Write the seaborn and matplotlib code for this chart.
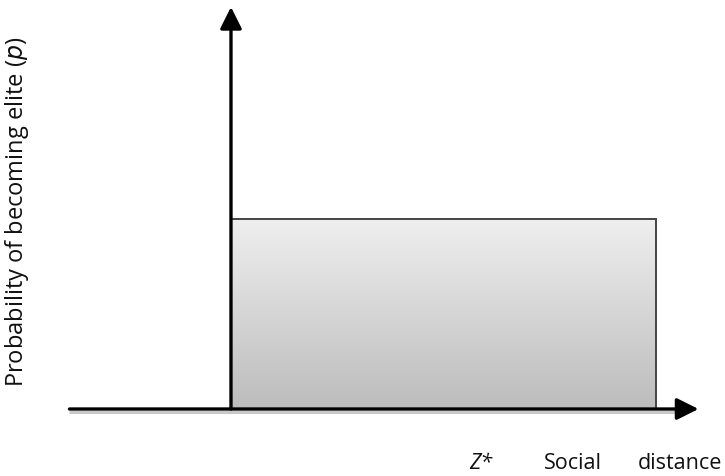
import numpy as np
import matplotlib
matplotlib.use("Agg")
import matplotlib.pyplot as plt
import seaborn as sns
from matplotlib.colors import LinearSegmentedColormap

sns.set_theme(style="white")
plt.rcParams['font.family'] = ['Open Sans', 'DejaVu Sans']

# Data (schematic units)
z_star = 0.0          # threshold Z*
bar_end = 1.0         # right edge of the step
p_level = [1.0]       # probability level above Z*
x_axis = [-0.38, 1.10]
y_axis_top = 2.116
x_labels = ["Z*", "Social", "distance"]
y_label = "Probability of becoming elite ($p$)"

fig = plt.figure(figsize=(7.25, 4.77), dpi=100)
ax = fig.add_axes([0, 0, 1, 1])
ax.set_xlim(-0.5435, 1.1624)
ax.set_ylim(-0.3526, 2.1579)
ax.axis("off")

# step bar with gradient
bars = ax.bar([z_star], p_level, width=bar_end - z_star, align="edge",
              facecolor="none", edgecolor="#444444", linewidth=1.4, zorder=3)
cmap = LinearSegmentedColormap.from_list("g", ["#bcbcbc", "#efefef"])
grad = np.linspace(0, 1, 256).reshape(-1, 1)
im = ax.imshow(grad, cmap=cmap, extent=[z_star, bar_end, 0, p_level[0]],
               origin="lower", aspect="auto", zorder=2)
im.set_clip_path(bars[0])
ax.set_xlim(-0.5435, 1.1624)
ax.set_ylim(-0.3526, 2.1579)

# shadows
ax.plot([x_axis[0], x_axis[1] - 0.03], [-0.016, -0.016], color="#c8c8c8", lw=2.2, zorder=1,
        solid_capstyle="butt")
# x axis arrow
ax.annotate("", xy=(x_axis[1], 0), xytext=(x_axis[0], 0),
            arrowprops=dict(arrowstyle="-|>,head_length=1.1,head_width=0.55",
                            color="black", lw=2.4, shrinkA=0, shrinkB=0), zorder=5)
# y axis arrow
ax.annotate("", xy=(z_star, y_axis_top), xytext=(z_star, 0),
            arrowprops=dict(arrowstyle="-|>,head_length=1.1,head_width=0.55",
                            color="black", lw=2.4, shrinkA=0, shrinkB=0), zorder=5)

# labels
fs = 15.5
ax.text(0.588, -0.279, x_labels[0], fontsize=fs, style="italic", ha="center", va="center",
        color="#111111")
ax.text(0.805, -0.279, x_labels[1], fontsize=fs, ha="center", va="center", color="#111111")
ax.text(1.056, -0.279, x_labels[2], fontsize=fs, ha="center", va="center", color="#111111")
ax.text(-0.503, 1.042, y_label, fontsize=17, rotation=90, ha="center", va="center",
        color="#111111")

fig.savefig("out.png", dpi=100)
